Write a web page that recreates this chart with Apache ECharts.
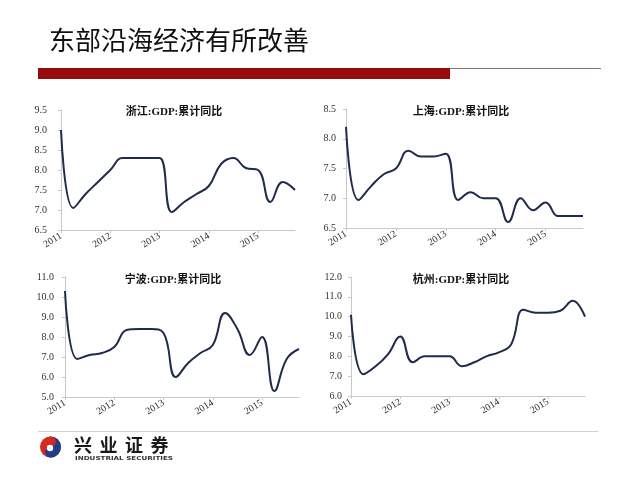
<!DOCTYPE html>
<html><head><meta charset="utf-8">
<script src="https://cdn.jsdelivr.net/npm/echarts@6/dist/echarts.min.js"></script>
<style>html,body{margin:0;padding:0;background:#fff}#c{width:640px;height:480px}</style>
</head><body><div id="c"></div>
<script>
const quarters = ['2011Q1','2011Q2','2011Q3','2011Q4','2012Q1','2012Q2','2012Q3','2012Q4','2013Q1','2013Q2','2013Q3','2013Q4','2014Q1','2014Q2','2014Q3','2014Q4','2015Q1','2015Q2','2015Q3','2015Q4'];
const zhejiang = [9.0,7.05,7.4,7.7,8.0,8.3,8.3,8.3,8.3,6.95,7.2,7.4,7.6,8.15,8.3,8.05,8.0,7.2,7.7,7.5];
const shanghai = [8.2,6.97,7.2,7.4,7.5,7.8,7.7,7.7,7.75,6.97,7.1,7.0,7.0,6.6,7.0,6.8,6.93,6.7,6.7,6.7];
const ningbo = [10.3,6.9,7.1,7.2,7.5,8.35,8.4,8.4,8.2,6.0,6.7,7.2,7.6,9.2,8.4,7.1,8.0,5.3,6.9,7.4];
const hangzhou = [10.1,7.1,7.5,8.1,9.0,7.7,8.0,8.0,8.0,7.5,7.7,8.0,8.2,8.6,10.35,10.2,10.2,10.3,10.8,10.0];
const titles = ['浙江:GDP:累计同比','上海:GDP:累计同比','宁波:GDP:累计同比','杭州:GDP:累计同比'];
const yMin = [6.5,6.5,5,6];
const yMax = [9.5,8.5,11,12];
const yStep = [0.5,0.5,1,1];

const grids = [
  {left:61, top:110, width:234, height:120},
  {left:346, top:109, width:237, height:119},
  {left:65, top:277, width:234, height:120},
  {left:351, top:277, width:234, height:119}
];
const labelMargin = [14,10,11,9];
const titlePos = [[174,112],[461,112],[173,280],[461,280]];
const seriesData = [zhejiang, shanghai, ningbo, hangzhou];
const axisColor = '#c8c8c8';
const serif = '"Liberation Serif","Times New Roman",serif';

const chart = echarts.init(document.getElementById('c'), null, {renderer:'canvas'});
const cx = 50.5, cy = 447, R = 10.5;
const brand = '兴业证券'.split('');
const option = {
  animation:false,
  backgroundColor:'#fff',
  grid: grids,
  xAxis: grids.map((g,i)=>({
    type:'category', gridIndex:i, data:quarters, boundaryGap:false,
    axisLine:{lineStyle:{color:axisColor,width:1}},
    axisTick:{interval:3, length:3, lineStyle:{color:axisColor}},
    axisLabel:{interval:3, rotate:32, margin:5, fontFamily:serif, fontSize:10, color:'#333',
      formatter:v=>v.slice(0,4)},
    splitLine:{show:false}
  })),
  yAxis: grids.map((g,i)=>({
    type:'value', gridIndex:i, min:yMin[i], max:yMax[i], interval:yStep[i],
    axisLine:{show:true, lineStyle:{color:axisColor,width:1}},
    axisTick:{show:true, length:3, lineStyle:{color:axisColor}},
    axisLabel:{fontFamily:serif, fontSize:10, color:'#333', margin:labelMargin[i], formatter:v=>v.toFixed(1)},
    splitLine:{show:false}
  })),
  series: seriesData.map((d,i)=>({
    type:'line', xAxisIndex:i, yAxisIndex:i, data:d, smooth:0.45, symbol:'none',
    lineStyle:{color:'#1e2b4a', width:2}
  })),
  graphic: [
    {type:'text', x:49, y:27, style:{text:'东部沿海经济有所改善', font:'normal 26px "Noto Sans CJK SC"', fill:'#111'}},
    {type:'rect', shape:{x:38, y:68, width:412, height:11}, style:{fill:'#960b0b'}},
    {type:'line', shape:{x1:450, y1:68.5, x2:601, y2:68.5}, style:{stroke:'#8c6e6e', lineWidth:1}},
    {type:'line', shape:{x1:38, y1:431.5, x2:598, y2:431.5}, style:{stroke:'#d8cccc', lineWidth:1}},
    // logo
    {type:'circle', shape:{cx:cx, cy:cy, r:R}, style:{fill:'#d62a20'}},
    {type:'sector', shape:{cx:cx, cy:cy, r:R, r0:0, startAngle:-Math.PI/2, endAngle:Math.PI/2}, style:{fill:'#1d3e8a'}},
    {type:'circle', shape:{cx:cx, cy:cy-R/2, r:R/2}, style:{fill:'#d62a20'}},
    {type:'circle', shape:{cx:cx, cy:cy+R/2, r:R/2}, style:{fill:'#1d3e8a'}},
    {type:'circle', shape:{cx:cx-0.5, cy:cy+1, r:3.2}, style:{fill:'#fff'}},
    {type:'text', x:75, y:456, scaleX:1.3, style:{text:'INDUSTRIAL SECURITIES', font:'bold 5.5px "DejaVu Sans"', fill:'#333'}}
  ].concat(brand.map((ch,k)=>({
    type:'text', x:74 + k*25.5, y:436, style:{text:ch, font:'bold 18px "Noto Sans CJK SC"', fill:'#1a1a1a'}
  }))).concat(titles.map((t,i)=>({
    type:'text', x:titlePos[i][0], y:titlePos[i][1],
    style:{text:t, font:'bold 11px "Liberation Serif","Noto Sans CJK SC",serif', fill:'#111', align:'center', verticalAlign:'middle'}
  })))
};
chart.setOption(option);
</script></body></html>
